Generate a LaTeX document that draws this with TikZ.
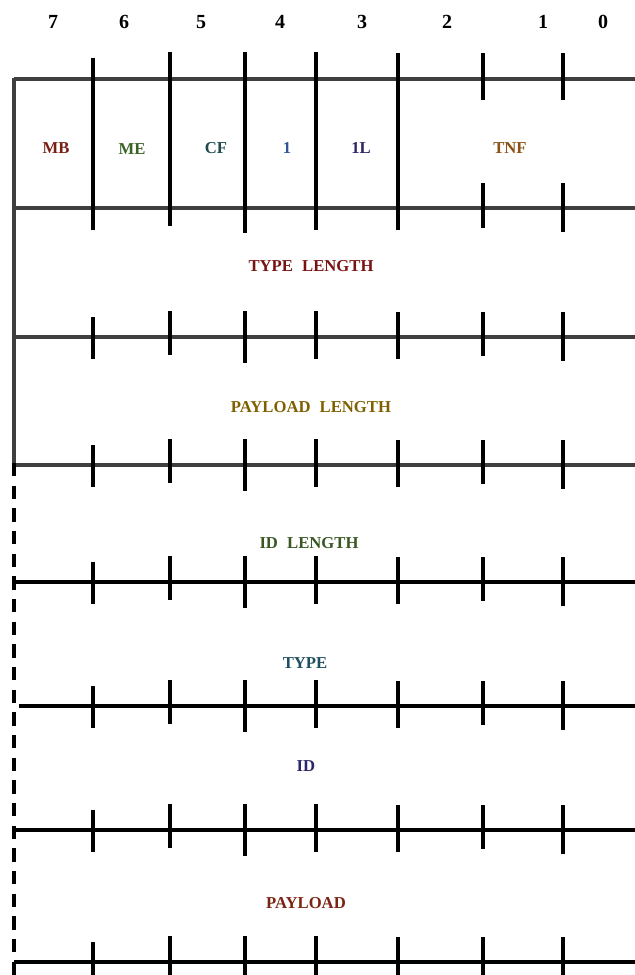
\documentclass[tikz,border=0pt]{standalone}
\usepackage{fontspec}
\setmainfont{Liberation Serif}
\usepackage{xcolor}
\usetikzlibrary{positioning}

\definecolor{frame}{HTML}{3F3F3F}
\definecolor{cMB}{HTML}{7B1F15}
\definecolor{cME}{HTML}{3B6324}
\definecolor{cCF}{HTML}{1F4A4D}
\definecolor{cOne}{HTML}{2F5597}
\definecolor{cIL}{HTML}{2E2563}
\definecolor{cTNF}{HTML}{8A5014}
\definecolor{cTL}{HTML}{7A1212}
\definecolor{cPL}{HTML}{7F6000}
\definecolor{cIDL}{HTML}{385723}
\definecolor{cTY}{HTML}{1F4E5F}
\definecolor{cID}{HTML}{2B2768}
\definecolor{cPAY}{HTML}{7A2412}

\begin{document}
\begin{tikzpicture}[
  x=0.75pt, y=-0.75pt,
  bitnum/.style = {font=\bfseries\fontsize{15}{17}\selectfont},
  field/.style  = {font=\bfseries\fontsize{12.5}{14}\selectfont},
  rule/.style   = {line width=2.6pt},
  grayrule/.style = {rule, frame},
  tick/.style   = {line width=2.6pt, black}
]
\useasboundingbox (0,0) rectangle (635,975);
% bit numbers
\node[bitnum] (b7) at (53,22) {7};
\node[bitnum] (b6) at (124,22) {6};
\node[bitnum] (b5) at (201,22) {5};
\node[bitnum] (b4) at (280,22) {4};
\node[bitnum] (b3) at (362,22) {3};
\node[bitnum] (b2) at (447,22) {2};
\node[bitnum] (b1) at (543,22) {1};
\node[bitnum] (b0) at (603,22) {0};
% frame lines
\foreach \y in {79,208,337,465}
  \draw[grayrule] (14,\y) -- (635,\y);
\foreach \y/\xs in {582/14,706/19,830/14,962/14}
  \draw[rule] (\xs,\y) -- (635,\y);
\draw[grayrule] (14,78) -- (14,465);
\draw[rule, dash pattern=on 10pt off 7pt] (14,463) -- (14,975);
% header byte: long separators and short ticks
\foreach \x/\t/\b in {93/58/230,170/52/226,245/52/233,316/52/230,398/53/230}
  \draw[tick] (\x,\t) -- (\x,\b);
\foreach \x/\b in {483/228,563/232} {
  \draw[tick] (\x,53) -- (\x,100);
  \draw[tick] (\x,183) -- (\x,\b);
}
% ticks on the other lines
\foreach \y in {337,465,582,706,830,962}
  \foreach \x/\t/\b in {93/20/22,170/26/18,245/26/26,316/26/22,398/25/22,483/25/19,563/25/24}
    \draw[tick] (\x,\y-\t) -- (\x,\y+\b);
% header fields
\node[field, cMB]  (mb)  at (56,148)  {MB};
\node[field, cME]  (me)  at (132,149) {ME};
\node[field, cCF]  (cf)  at (216,148) {CF};
\node[field, cOne] (sr)  at (287,148) {1};
\node[field, cIL]  (il)  at (361,148) {1L};
\node[field, cTNF] (tnf) at (510,148) {TNF};
% record fields
\node[field, cTL]  (tlen) at (311,266) {TYPE\hspace{0.3em} LENGTH};
\node[field, cPL]  (plen) at (311,407) {PAYLOAD\hspace{0.3em} LENGTH};
\node[field, cIDL] (ilen) at (309,543) {ID\hspace{0.3em} LENGTH};
\node[field, cTY]  (type) at (305,663) {TYPE};
\node[field, cID]  (id)   at (306,766) {ID};
\node[field, cPAY] (pay)  at (306,903) {PAYLOAD};
\end{tikzpicture}
\end{document}
